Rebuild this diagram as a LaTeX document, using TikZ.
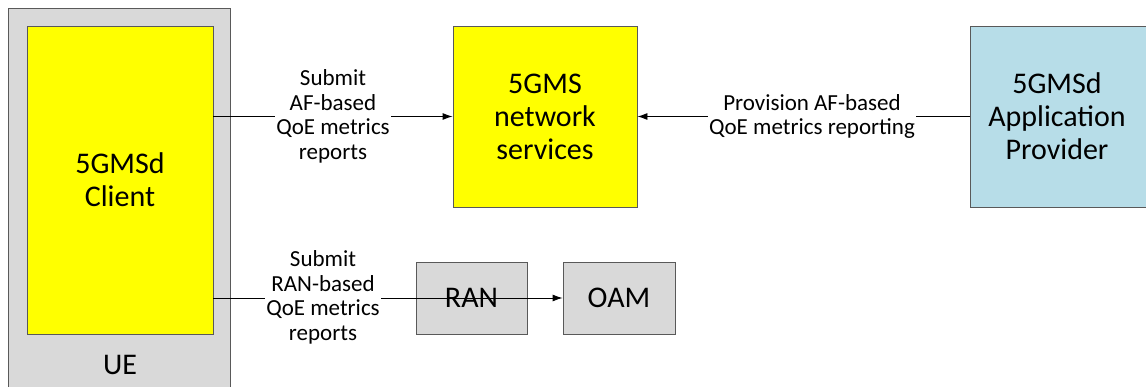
\documentclass[tikz,border=0pt]{standalone}
\usepackage{fontspec}
\setmainfont{Carlito}
\usetikzlibrary{arrows.meta}
\definecolor{uegray}{HTML}{D9D9D9}
\definecolor{boxline}{HTML}{595959}
\definecolor{apblue}{HTML}{B7DDE8}
\definecolor{yel}{HTML}{FFFF00}
\tikzset{
  box/.style={draw=boxline, line width=0.9pt, rectangle, inner sep=0pt, align=center,
    font=\fontsize{30}{33}\selectfont},
  lbl/.style={fill=white, inner sep=1pt, align=center, font=\fontsize{23}{24.5}\selectfont},
  conn/.style={draw=black, line width=0.9pt},
  arr/.style={conn, -{Latex[length=10pt,width=7pt]}},
}
\begin{document}
\begin{tikzpicture}[x=1pt,y=-1pt]
\useasboundingbox (0,0) rectangle (1146,387);
\clip (0,0) rectangle (1146,387);
% UE container
\node[box, fill=uegray, draw=boxline, minimum width=222, minimum height=392, anchor=north west] (ue) at (8,8) {};
\node[font=\fontsize{30}{33}\selectfont, inner sep=0pt] (uelabel) at (120,365) {UE};
% boxes
\node[box, fill=yel, minimum width=186, minimum height=308] (client) at (120,180) {5GMSd\\Client};
\node[box, fill=yel, minimum width=184, minimum height=181] (ns) at (545,116.5) {5GMS\\network\\services};
\node[box, fill=apblue, minimum width=184, minimum height=181, anchor=west] (ap) at (970,116.5) {};
\node[font=\fontsize{30}{33}\selectfont, align=center, inner sep=0pt] (aptext) at (1057,116.5) {5GMSd\\Application\\Provider};
\node[box, fill=uegray, minimum width=111, minimum height=72] (ran) at (471.5,298) {RAN};
\node[box, fill=uegray, minimum width=112, minimum height=72] (oam) at (619,298) {OAM};
% connectors
\draw[arr] (client.east |- ns.west) -- (ns.west);
\draw[arr] (ap.west) -- (ns.east);
\draw[arr] (client.east |- ran.center) -- (oam.west);
% labels
\node[lbl] (l1) at (333,116.5) {Submit\\AF-based\\QoE metrics\\reports};
\node[lbl] (l2) at (812,116.5) {Provision AF-based\\QoE metrics reporting};
\node[lbl] (l3) at (323,297.5) {Submit\\RAN-based\\QoE metrics\\reports};
\end{tikzpicture}
\end{document}
